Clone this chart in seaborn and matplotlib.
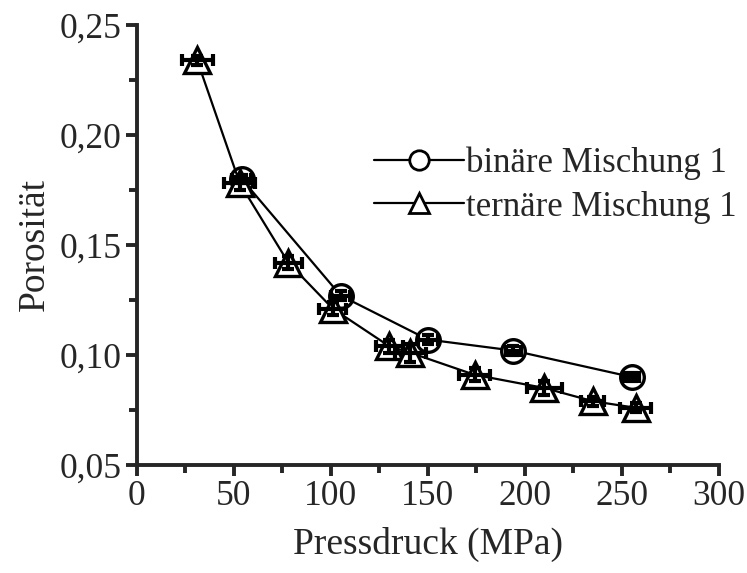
import matplotlib
matplotlib.use("Agg")
import matplotlib.pyplot as plt
import seaborn as sns
import pandas as pd
from matplotlib.lines import Line2D
from matplotlib.ticker import FuncFormatter, MultipleLocator

# Data
bin_x = [54, 105, 150, 194, 255]
bin_y = [0.180, 0.127, 0.107, 0.102, 0.090]
bin_xerr = [5, 5, 5, 4, 4]
bin_yerr = [0.002, 0.002, 0.002, 0.002, 0.002]

ter_x = [31, 53, 78, 101, 130, 141, 174, 210, 235, 257]
ter_y = [0.234, 0.178, 0.142, 0.121, 0.104, 0.101, 0.091, 0.085, 0.079, 0.076]
ter_xerr = [8, 8, 7, 7, 7, 8, 8, 9, 6, 8]
ter_yerr = [0.002, 0.003, 0.003, 0.003, 0.003, 0.004, 0.003, 0.003, 0.002, 0.002]

labels = ["binäre Mischung 1", "ternäre Mischung 1"]

sns.set_style("ticks")
plt.rcParams["font.family"] = ["Liberation Serif", "DejaVu Serif"]

fig = plt.figure(figsize=(7.47, 5.73), dpi=100)
ax = fig.add_axes([0.1834, 0.1885, 0.779, 0.768])

df_b = pd.DataFrame({"x": bin_x, "y": bin_y})
df_t = pd.DataFrame({"x": ter_x, "y": ter_y})

sns.lineplot(data=df_b, x="x", y="y", ax=ax, color="black", lw=1.6,
             marker="o", markersize=17, markerfacecolor="white",
             markeredgecolor="black", markeredgewidth=2.4, zorder=2)
sns.lineplot(data=df_t, x="x", y="y", ax=ax, color="black", lw=1.6,
             marker="^", markersize=19, markerfacecolor="white",
             markeredgecolor="black", markeredgewidth=2.4, zorder=2)

ax.errorbar(bin_x, bin_y, xerr=bin_xerr, yerr=bin_yerr, fmt="none",
            ecolor="black", elinewidth=3, capsize=4, capthick=3, zorder=3)
ax.errorbar(ter_x, ter_y, xerr=ter_xerr, yerr=ter_yerr, fmt="none",
            ecolor="black", elinewidth=3, capsize=4, capthick=3, zorder=3)

ax.set_xlim(0, 300)
ax.set_ylim(0.05, 0.25)
ax.xaxis.set_major_locator(MultipleLocator(50))
ax.xaxis.set_minor_locator(MultipleLocator(25))
ax.yaxis.set_major_locator(MultipleLocator(0.05))
ax.yaxis.set_minor_locator(MultipleLocator(0.025))
ax.yaxis.set_major_formatter(FuncFormatter(lambda v, p: f"{v:.2f}".replace(".", ",")))

sns.despine(ax=ax)
for s in ["left", "bottom"]:
    ax.spines[s].set_linewidth(2.8)
ax.tick_params(which="major", length=8, width=2.8, labelsize=25.5, direction="out", pad=3)
ax.tick_params(which="minor", length=6, width=2.8, direction="out")

ax.set_xlabel("Pressdruck (MPa)", fontsize=27, labelpad=10)
ax.set_ylabel("Porosität", fontsize=27, labelpad=6)

handles = [
    Line2D([], [], color="black", lw=1.6, marker="o", markersize=14,
           markerfacecolor="white", markeredgecolor="black", markeredgewidth=2),
    Line2D([], [], color="black", lw=1.6, marker="^", markersize=15,
           markerfacecolor="white", markeredgecolor="black", markeredgewidth=2),
]
ax.legend(handles, labels, loc="upper left", bbox_to_anchor=(0.383, 0.755),
          frameon=False, fontsize=25, handlelength=2.6, handletextpad=0.05,
          labelspacing=0.3, borderaxespad=0)

fig.savefig("out.png", dpi=100)
